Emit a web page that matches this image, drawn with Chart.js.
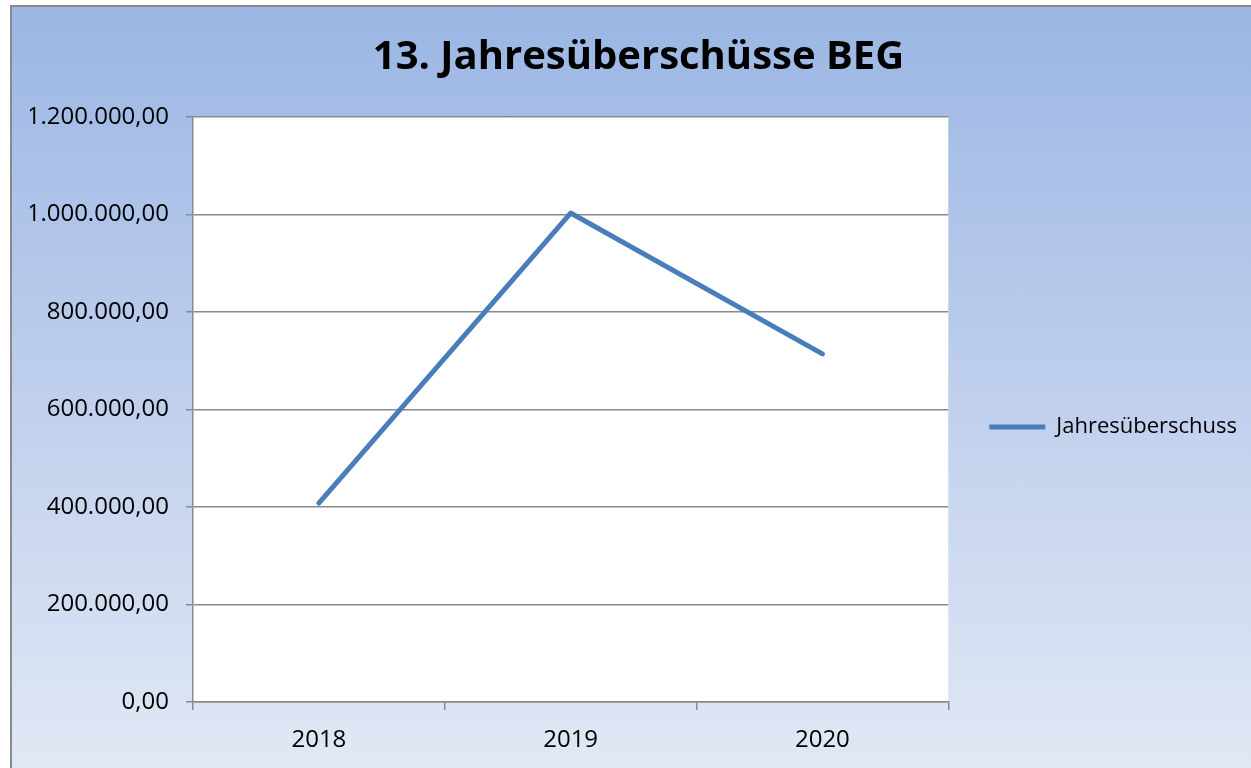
<!DOCTYPE html>
<html>
<head>
<meta charset="utf-8">
<script src="https://cdn.jsdelivr.net/npm/chart.js@4"></script>
<style>
  html, body { margin: 0; padding: 0; overflow: hidden; width: 1251px; height: 768px; background: #fff; }
  #box {
    position: absolute; left: 10px; top: 5px;
    width: 1254px; height: 840px;
    border: 2px solid #8a8a8a;
    background: linear-gradient(to bottom, #9bb6e4 0%, #e2e8f5 91%, #e6ebf6 100%);
  }
</style>
</head>
<body>
<div id="box"><canvas id="myChart" width="1254" height="840"></canvas></div>
<script>
const chartTitle = '13. Jahresüberschüsse BEG';
const seriesName = 'Jahresüberschuss';
const years = ['2018', '2019', '2020'];
const surplus = [408000, 1003000, 714000];
const yTicks = [0, 200000, 400000, 600000, 800000, 1000000, 1200000];

const fontFamily = '"Open Sans", sans-serif';

function formatGerman(v) {
    return v.toLocaleString('de-DE', { minimumFractionDigits: 2, maximumFractionDigits: 2 });
}

// white plot area, like the excel chart
const plotBackground = {
    id: 'plotBackground',
    beforeDraw(chart) {
        const { ctx, chartArea } = chart;
        ctx.save();
        ctx.fillStyle = '#ffffff';
        ctx.fillRect(chartArea.left, chartArea.top, chartArea.right - chartArea.left, chartArea.bottom - chartArea.top);
        ctx.restore();
    }
};

const data = {
    labels: years,
    datasets: [{
        label: seriesName,
        data: surplus,
        borderColor: '#4a7ebb',
        backgroundColor: '#4a7ebb',
        borderWidth: 5,
        borderCapStyle: 'round',
        borderJoinStyle: 'round',
        pointRadius: 0,
        pointHoverRadius: 0,
        tension: 0
    }]
};

const config = {
    type: 'line',
    data,
    options: {
        responsive: false,
        animation: false,
        layout: { padding: { left: 18, right: 19, top: 0, bottom: 0 } },
        plugins: {
            title: {
                display: true,
                text: chartTitle,
                color: '#000',
                font: { family: fontFamily, size: 40, weight: 'bold', lineHeight: 1.2 },
                padding: { top: 27, bottom: 35 }
            },
            legend: {
                position: 'right',
                labels: {
                    usePointStyle: true,
                    pointStyle: 'line',
                    pointStyleWidth: 56,
                    color: '#000',
                    font: { family: fontFamily, size: 22 },
                    padding: 41
                }
            },
            tooltip: { enabled: false }
        },
        scales: {
            x: {
                offset: true,
                grid: {
                    offset: true,
                    drawOnChartArea: false,
                    drawTicks: true,
                    tickLength: 8,
                    color: '#8a8a8a',
                    lineWidth: 1.5
                },
                border: { color: '#8a8a8a', width: 1.5 },
                ticks: {
                    color: '#000',
                    font: { family: fontFamily, size: 24 },
                    padding: 16
                },
                afterFit(scale) { scale.height = 145; }
            },
            y: {
                min: 0,
                max: 1200000,
                afterBuildTicks(scale) { scale.ticks = yTicks.map(v => ({ value: v })); },
                grid: {
                    color: '#8a8a8a',
                    lineWidth: 1.5,
                    tickLength: 7
                },
                border: { color: '#8a8a8a', width: 1.5 },
                ticks: {
                    color: '#000',
                    font: { family: fontFamily, size: 24 },
                    padding: 17,
                    callback: v => formatGerman(v)
                },
                afterFit(scale) { scale.width = 163; }
            }
        }
    },
    plugins: [plotBackground]
};

let myChart = new Chart(document.getElementById('myChart'), config);
</script>
</body>
</html>
